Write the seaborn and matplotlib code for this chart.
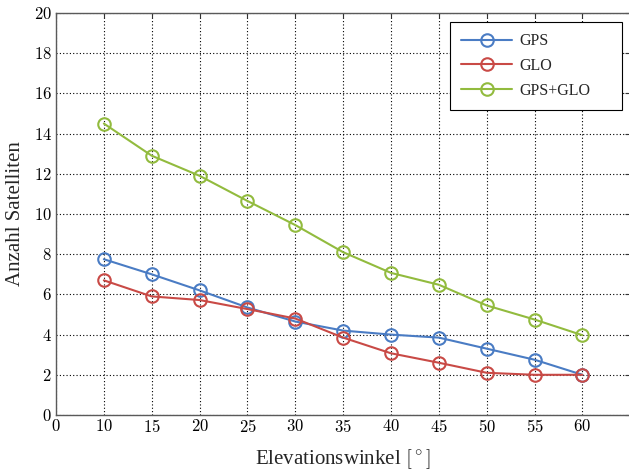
import matplotlib
matplotlib.use("Agg")
import matplotlib.pyplot as plt
import seaborn as sns
import pandas as pd

elevation = [10, 15, 20, 25, 30, 35, 40, 45, 50, 55, 60]
gps = [7.75, 7.0, 6.2, 5.35, 4.65, 4.2, 4.0, 3.85, 3.3, 2.75, 2.0]
glo = [6.7, 5.9, 5.72, 5.27, 4.8, 3.85, 3.07, 2.6, 2.1, 2.0, 2.0]
gps_glo = [14.5, 12.9, 11.9, 10.65, 9.45, 8.1, 7.07, 6.48, 5.45, 4.75, 3.97]
series_names = ["GPS", "GLO", "GPS+GLO"]
colors = ["#4a7cc4", "#c94a46", "#92bb3e"]

x_tick_pos = [5, 10, 15, 20, 25, 30, 35, 40, 45, 50, 55, 60]
x_tick_labels = ["0", "10", "15", "20", "25", "30", "35", "40", "45", "50", "55", "60"]
y_ticks = [0, 2, 4, 6, 8, 10, 12, 14, 16, 18, 20]

sns.set_theme(style="white")
plt.rcParams["font.family"] = ["Liberation Serif", "DejaVu Serif"]
plt.rcParams["mathtext.fontset"] = "cm"

fig = plt.figure(figsize=(6.29, 4.73), dpi=100)
ax = fig.add_axes([56 / 629, 1 - 415 / 473, 1.0 - 56 / 629 + 0.002, (415 - 13) / 473])

for name, vals, c in zip(series_names, [gps, glo, gps_glo], colors):
    df = pd.DataFrame({"Elevation": elevation, "Anzahl": vals})
    sns.lineplot(data=df, x="Elevation", y="Anzahl", ax=ax, color=c, label=name,
                 marker="o", markersize=9, markerfacecolor="none",
                 markeredgecolor=c, markeredgewidth=1.5, linewidth=1.5)

ax.set_xlim(5, 65)
ax.set_ylim(0, 20)
ax.set_xticks(x_tick_pos)
ax.set_xticklabels(["$%s$" % t for t in x_tick_labels], fontsize=12)
ax.set_yticks(y_ticks)
ax.set_yticklabels(["$%d$" % t for t in y_ticks], fontsize=12)
ax.tick_params(direction="in", length=3.5, width=0.8, top=True, right=True,
               colors="#333333", labelcolor="black", pad=3)
ax.grid(True, linestyle=(0, (1, 2)), color="black", linewidth=0.8)
for s in ax.spines.values():
    s.set_color("#5a5a5a")
    s.set_linewidth(1.0)

ax.set_xlabel(r"Elevationswinkel $[^\circ]$", fontsize=15, labelpad=8)
ax.set_ylabel("Anzahl Satelliten", fontsize=15, labelpad=6)

leg = ax.legend(loc="upper left", bbox_to_anchor=(450 / 629, 1 - 22 / 473 - 0.2, 172 / 629, 0.2),
                bbox_transform=fig.transFigure, mode="expand", borderaxespad=0,
                fontsize=11.5, handlelength=3.2, handletextpad=0.45, labelspacing=0.55,
                borderpad=0.7, fancybox=False, framealpha=1, edgecolor="black")
leg.get_frame().set_linewidth(0.8)

fig.savefig("out.png", dpi=100)
